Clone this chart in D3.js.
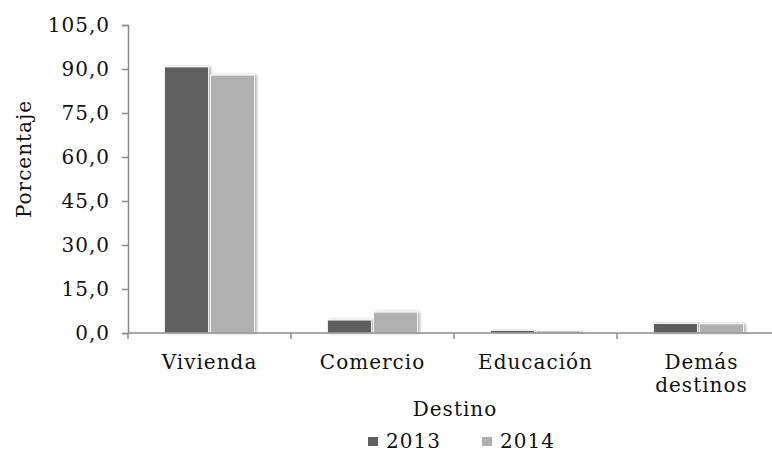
<!DOCTYPE html>
<html>
<head>
<meta charset="utf-8">
<script src="https://cdn.jsdelivr.net/npm/d3@7"></script>
<style>
body { margin: 0; background: #fff; }
text { font-family: "DejaVu Serif", serif; font-size: 20px; letter-spacing: 1px; fill: #111; }
</style>
</head>
<body>
<script>
// data
var categories = ["Vivienda", "Comercio", "Educación", "Demás destinos"];
var years = ["2013", "2014"];
var values2013 = [90.7, 4.4, 0.9, 3.2];
var values2014 = [87.9, 7.1, 0.7, 3.1];
var yTicks = [0, 15, 30, 45, 60, 75, 90, 105];
var colors = ["#5f5f5f", "#b0b0b0"];

var W = 772, H = 453;
var margin = {top: 25, left: 128, bottom: 120};
var plotBottom = H - margin.bottom; // 333

var svg = d3.select("body").append("svg")
.attr("width", W)
.attr("height", H);

// soft shadow for the bars
var filter = svg.append("defs").append("filter")
.attr("id", "shadow")
.attr("x", "-20%").attr("y", "-20%")
.attr("width", "150%").attr("height", "140%");
filter.append("feDropShadow")
.attr("dx", 2).attr("dy", 0)
.attr("stdDeviation", 1.6)
.attr("flood-color", "#000")
.attr("flood-opacity", 0.3);

// scales
var y = d3.scaleLinear()
.domain([0, 105])
.range([plotBottom, margin.top]);

var x = d3.scaleBand()
.domain(categories)
.range([margin.left, margin.left + 163 * 4]);

var xSub = d3.scaleBand()
.domain(years)
.range([0, x.bandwidth()])
.paddingInner(0.0435)
.paddingOuter(0.793);

var locale = d3.formatLocale({decimal: ",", thousands: ".", grouping: [3], currency: ["", ""]});
var fmt = locale.format(".1f");

// bars
var rows = categories.map(function(c, i) {
    return {cat: c, vals: [values2013[i], values2014[i]]};
});

var groups = svg.selectAll(".grp")
.data(rows)
.enter().append("g")
.attr("class", "grp")
.attr("transform", function(d) { return "translate(" + x(d.cat) + ",0)"; });

groups.selectAll("rect")
.data(function(d) { return d.vals.map(function(v, j) { return {year: years[j], v: v, j: j}; }); })
.enter().append("rect")
.attr("x", function(d) { return xSub(d.year); })
.attr("y", function(d) { return y(d.v); })
.attr("width", xSub.bandwidth())
.attr("height", function(d) { return y(0) - y(d.v); })
.attr("fill", function(d) { return colors[d.j]; })
.attr("stroke", "#fff")
.attr("stroke-width", 0.8)
.attr("filter", "url(#shadow)");

// y axis
var yAxis = svg.append("g")
.attr("transform", "translate(" + margin.left + ",0)")
.call(d3.axisLeft(y).tickValues(yTicks).tickFormat(fmt).tickSize(6).tickSizeOuter(6).tickPadding(12));
yAxis.selectAll("text").style("font-size", "20px").style("font-family", "DejaVu Serif");

// x axis line and category boundary ticks
var xAxis = svg.append("g");
xAxis.append("line")
.attr("x1", margin.left).attr("x2", W)
.attr("y1", y(0)).attr("y2", y(0));
xAxis.selectAll(".bt")
.data(categories)
.enter().append("line")
.attr("class", "bt")
.attr("x1", function(d) { return x(d); })
.attr("x2", function(d) { return x(d); })
.attr("y1", y(0)).attr("y2", y(0) + 6);

svg.selectAll(".domain, .tick line").attr("stroke", "#8c8c8c").attr("stroke-width", 1.5);
xAxis.selectAll("line").attr("stroke", "#8c8c8c").attr("stroke-width", 1.5);

// category labels (last one wraps onto two lines)
var labels = svg.selectAll(".cat")
.data(categories)
.enter().append("text")
.attr("class", "cat")
.attr("text-anchor", "middle")
.attr("y", 369);
labels.each(function(d) {
    var words = d === "Demás destinos" ? ["Demás", "destinos"] : [d];
    var cx = x(d) + x.bandwidth() / 2 + (d === "Demás destinos" ? 3 : 0);
    var t = d3.select(this);
    words.forEach(function(w, i) {
        t.append("tspan")
        .attr("x", cx)
        .attr("dy", i === 0 ? 0 : 23)
        .text(w);
    });
});

// axis titles
svg.append("text")
.attr("text-anchor", "middle")
.attr("x", 455)
.attr("y", 416)
.text("Destino");

svg.append("text")
.attr("text-anchor", "middle")
.attr("transform", "translate(31,159) rotate(-90)")
.text("Porcentaje");

// legend
var legend = svg.selectAll(".leg")
.data(years)
.enter().append("g")
.attr("class", "leg")
.attr("transform", function(d, i) { return "translate(" + (368 + i * 114) + ",437)"; });
legend.append("rect")
.attr("width", 10).attr("height", 9)
.attr("fill", function(d, i) { return colors[i]; });
legend.append("text")
.attr("x", 18)
.attr("y", 11)
.text(function(d) { return d; });
</script>
</body>
</html>
